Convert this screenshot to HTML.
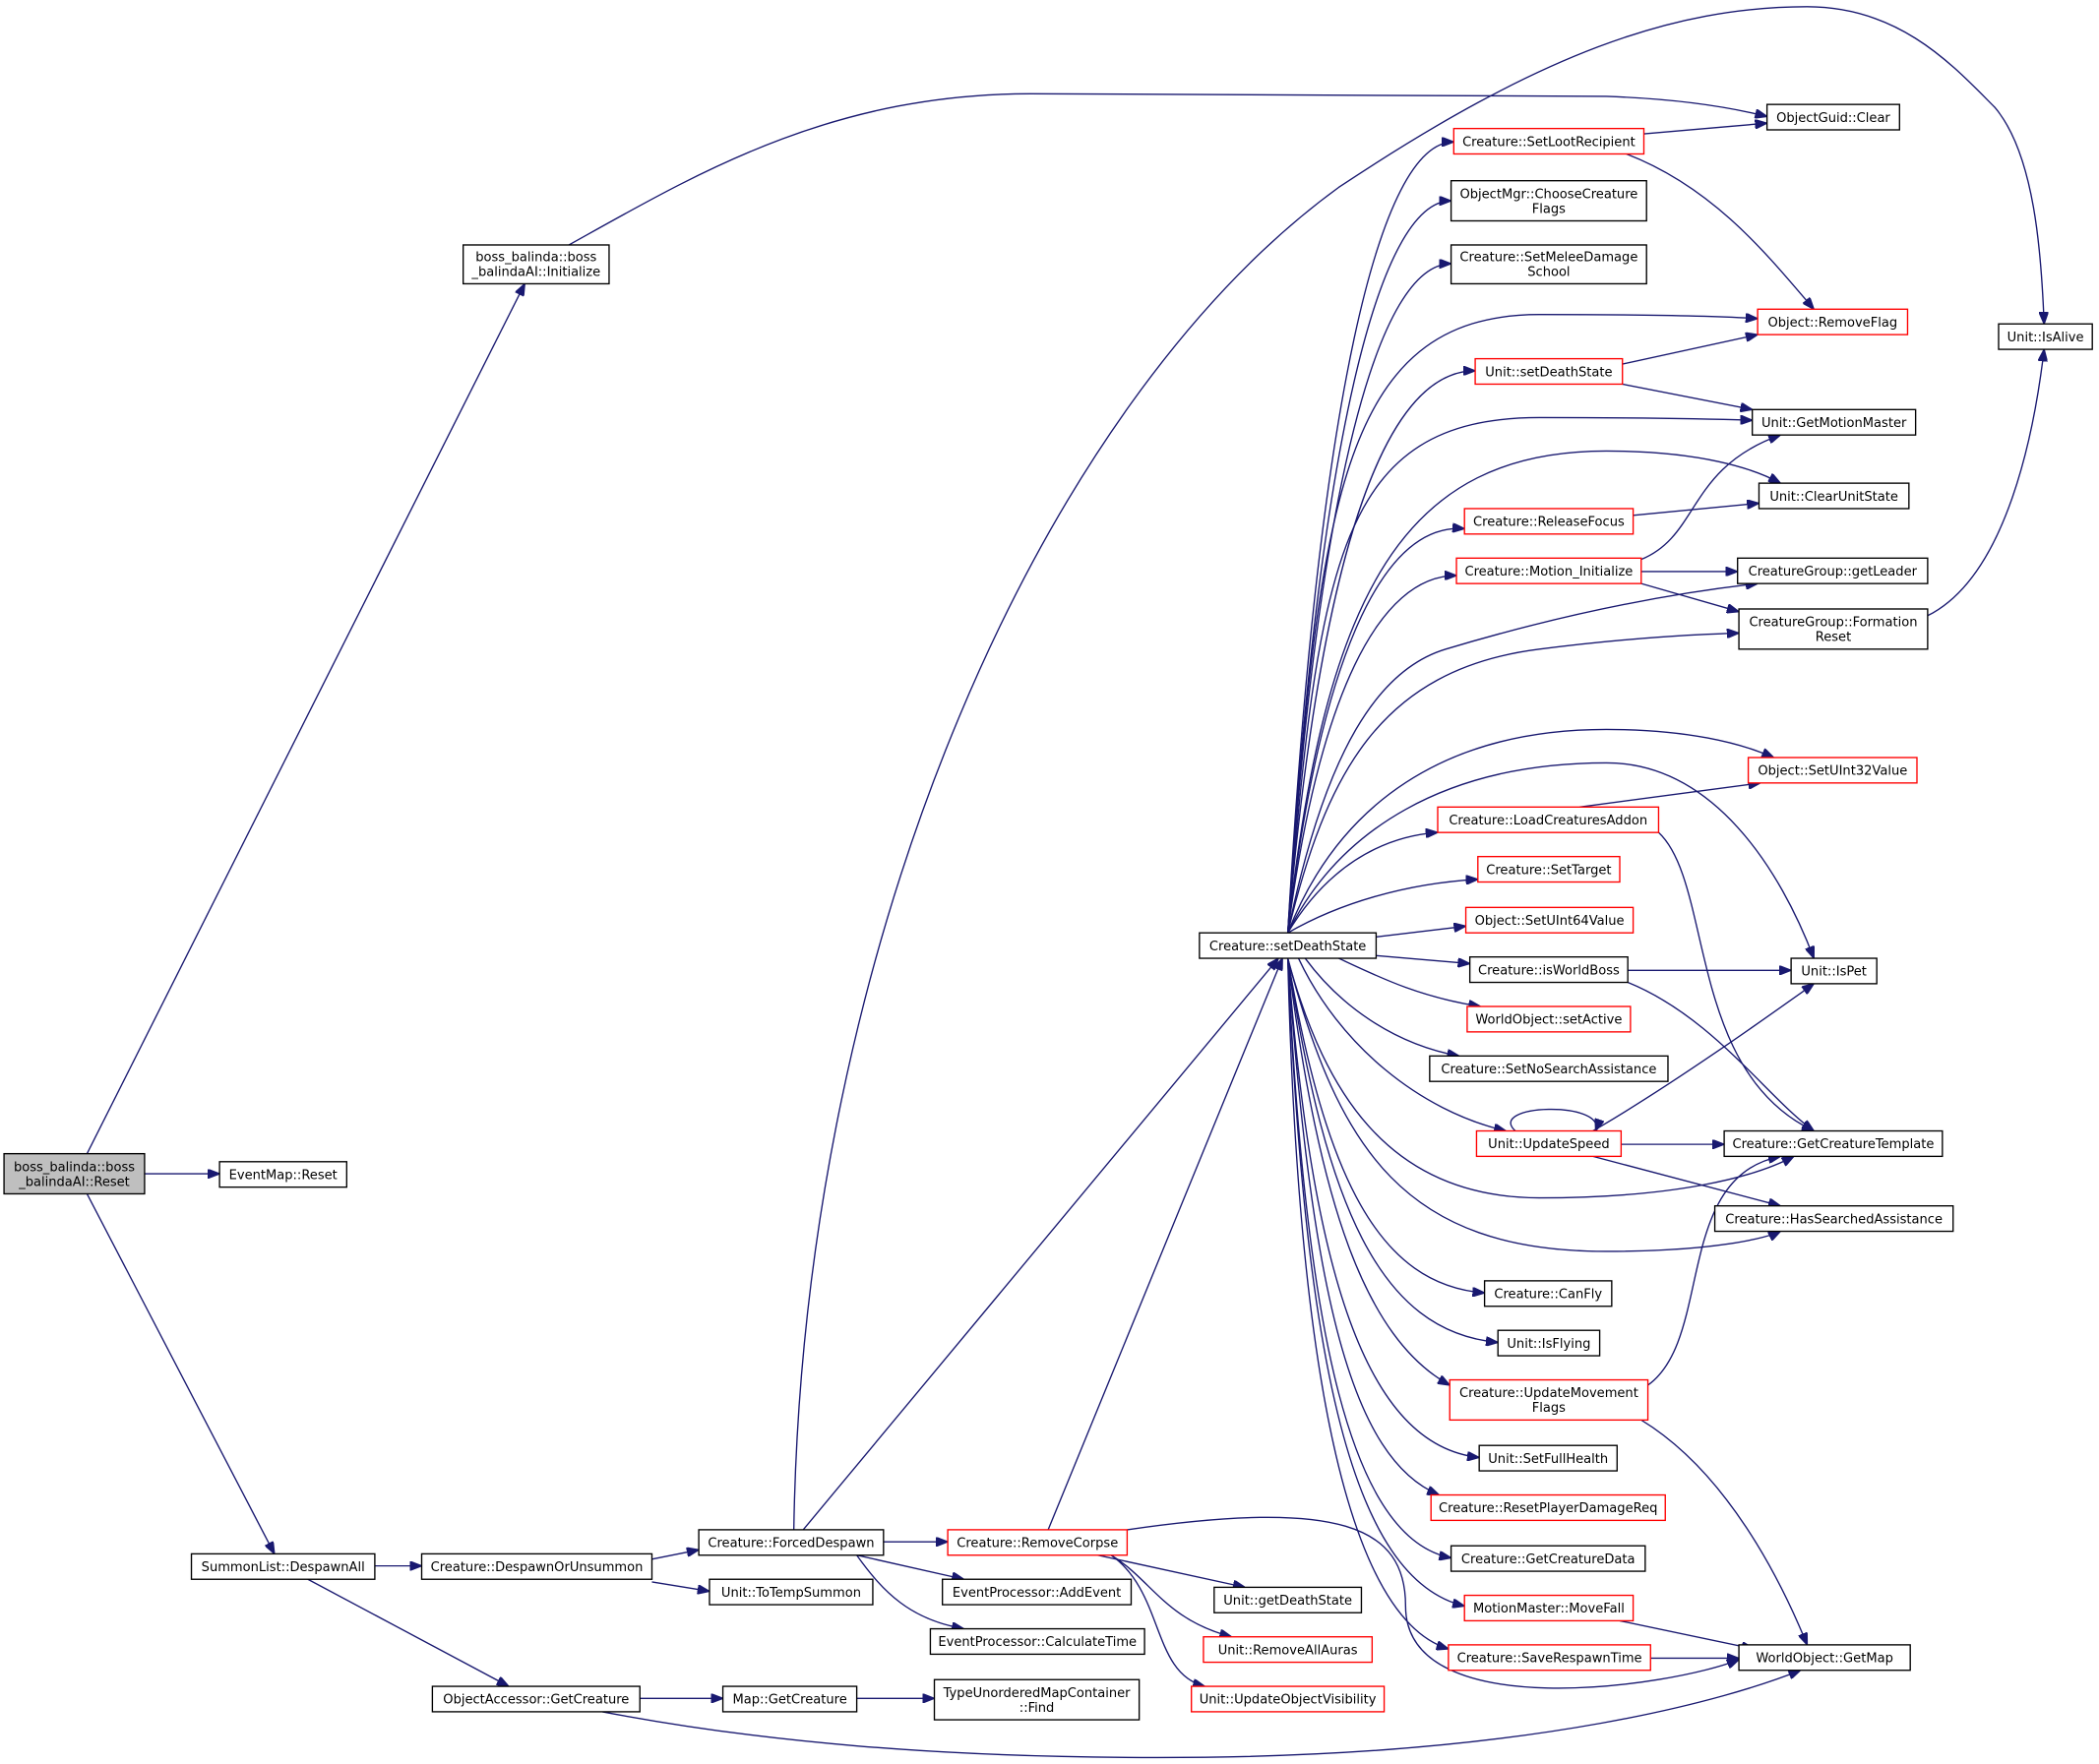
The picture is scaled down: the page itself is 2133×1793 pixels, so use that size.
<!DOCTYPE html>
<html><head><meta charset="utf-8"><style>
html,body{margin:0;padding:0;background:#fff;}
svg{display:block;}
text{font-family:"DejaVu Sans","Liberation Sans",sans-serif;font-size:9.6px;fill:#000;text-anchor:middle;}
.e{fill:none;stroke:#191970;stroke-width:1;marker-end:url(#a);}
.n{fill:#fff;stroke:#000;stroke-width:1;}
.r{fill:#fff;stroke:#ff0000;stroke-width:1;}
</style></head><body>
<svg width="2133" height="1793" viewBox="0 0 1568 1318" xmlns="http://www.w3.org/2000/svg">
<defs><marker id="a" markerWidth="9" markerHeight="7" refX="9" refY="3.5" orient="auto" markerUnits="userSpaceOnUse"><path d="M0,0 L9,3.5 L0,7 Z" fill="#191970" stroke="#191970"/></marker></defs>
<rect width="1568" height="1318" fill="#fff"/>
<g>
<path class="e" d="M65,862 L392,212"/>
<path class="e" d="M108,877 L164,877"/>
<path class="e" d="M65,892 L205,1161"/>
<path class="e" d="M425,183 C520,130 620,70 770,70 L1200,72 C1260,74 1300,82 1320,87"/>
<path class="e" d="M280,1170 L315,1170"/>
<path class="e" d="M230,1180 L380,1260"/>
<path class="e" d="M487,1165 L522,1158"/>
<path class="e" d="M487,1182 L530,1189"/>
<path class="e" d="M478,1269 L540,1269"/>
<path class="e" d="M450,1279 C560,1300 700,1315 900,1313 C1150,1310 1290,1270 1345,1248"/>
<path class="e" d="M640,1269 L698,1269"/>
<path class="e" d="M593,1143 C600,700 780,300 1000,140 C1150,40 1250,5 1350,5 C1420,5 1460,50 1490,80 C1520,115 1525,190 1527,242"/>
<path class="e" d="M600,1143 L955,716"/>
<path class="e" d="M660,1152 L708,1152"/>
<path class="e" d="M640,1162 L720,1180"/>
<path class="e" d="M640,1162 C660,1190 680,1210 720,1217"/>
<path class="e" d="M783,1143 L958,716"/>
<path class="e" d="M820,1162 L930,1186"/>
<path class="e" d="M830,1162 C860,1180 870,1210 920,1223"/>
<path class="e" d="M830,1162 C870,1190 860,1250 900,1260"/>
<path class="e" d="M842,1143 C1000,1120 1050,1140 1050,1200 C1050,1290 1250,1260 1299,1240"/>
<!-- from setDeathState -->
<path class="e" d="M962,697 C985,300 1030,106 1086,106"/>
<path class="e" d="M962,697 C985,330 1030,150 1084,150"/>
<path class="e" d="M962,697 C985,360 1030,197 1084,197"/>
<path class="e" d="M962,697 C985,380 1000,235 1150,235 C1230,235 1280,236 1313,238"/>
<path class="e" d="M962,697 C985,430 1030,277 1102,277"/>
<path class="e" d="M962,697 C985,420 1000,312 1150,312 C1230,312 1280,313 1309,314"/>
<path class="e" d="M962,697 C990,440 1050,337 1200,337 C1270,337 1310,350 1330,361"/>
<path class="e" d="M962,697 C985,500 1030,390 1094,395"/>
<path class="e" d="M962,697 C985,520 1030,430 1088,430"/>
<path class="e" d="M962,697 C990,560 1030,500 1080,485 C1180,455 1260,442 1313,436"/>
<path class="e" d="M962,697 C990,580 1030,500 1150,485 C1220,476 1270,474 1299,473"/>
<path class="e" d="M962,697 C1000,600 1080,545 1200,545 C1260,545 1300,555 1325,566"/>
<path class="e" d="M962,697 C1000,620 1080,570 1200,570 C1280,570 1330,650 1355,716"/>
<path class="e" d="M962,697 C990,650 1030,625 1074,622"/>
<path class="e" d="M962,697 C1000,675 1050,660 1104,657"/>
<path class="e" d="M1028,700 L1095,692"/>
<path class="e" d="M1028,714 L1098,720"/>
<path class="e" d="M1000,716 C1030,730 1060,745 1106,752"/>
<path class="e" d="M975,716 C1000,750 1040,780 1090,789"/>
<path class="e" d="M970,716 C1000,780 1060,830 1125,845"/>
<path class="e" d="M962,716 C990,820 1040,895 1150,895 C1250,895 1310,880 1340,864"/>
<path class="e" d="M962,716 C1000,860 1050,935 1200,935 C1280,935 1320,925 1330,920"/>
<path class="e" d="M962,716 C990,880 1030,960 1109,966"/>
<path class="e" d="M962,716 C990,900 1030,995 1119,1003"/>
<path class="e" d="M962,716 C985,900 1020,1000 1083,1035"/>
<path class="e" d="M962,716 C980,950 1020,1080 1105,1089"/>
<path class="e" d="M962,716 C980,970 1010,1090 1075,1117"/>
<path class="e" d="M962,716 C975,1000 1010,1150 1084,1164"/>
<path class="e" d="M962,716 C975,1020 1010,1180 1094,1200"/>
<path class="e" d="M962,716 C970,1040 1010,1210 1082,1232"/>
<!-- others -->
<path class="e" d="M1228,100 L1320,92"/>
<path class="e" d="M1215,115 C1280,140 1320,190 1355,231"/>
<path class="e" d="M1212,272 L1313,250"/>
<path class="e" d="M1212,287 L1309,306"/>
<path class="e" d="M1220,385 L1314,376"/>
<path class="e" d="M1226,418 C1270,400 1260,350 1330,325"/>
<path class="e" d="M1226,427 L1298,427"/>
<path class="e" d="M1226,436 L1299,457"/>
<path class="e" d="M1440,460 C1500,430 1520,320 1527,261"/>
<path class="e" d="M1180,603 L1315,585"/>
<path class="e" d="M1239,622 C1280,660 1260,800 1355,845"/>
<path class="e" d="M1216,725 L1338,725"/>
<path class="e" d="M1216,734 C1280,760 1320,820 1355,845"/>
<path class="e" d="M1190,845 C1250,810 1320,760 1355,735"/>
<path class="e" d="M1132,845 C1110,825 1200,822 1192,845"/>
<path class="e" d="M1211,855 L1288,855"/>
<path class="e" d="M1190,864 L1330,901"/>
<path class="e" d="M1231,1035 C1280,1000 1250,880 1330,864"/>
<path class="e" d="M1226,1061 C1290,1100 1330,1180 1350,1229"/>
<path class="e" d="M1210,1211 L1310,1232"/>
<path class="e" d="M1233,1239 L1299,1239"/>
</g>
<g>
<rect x="3" y="862" width="105" height="30" fill="#bfbfbf" stroke="#000"/><text x="55.5" y="875">boss_balinda::boss</text><text x="55.5" y="886">_balindaAI::Reset</text>
<rect class="n" x="346" y="183" width="109" height="29"/><text x="400.5" y="195">boss_balinda::boss</text><text x="400.5" y="206">_balindaAI::Initialize</text>
<rect class="n" x="164" y="868" width="95" height="19"/><text x="211.5" y="881">EventMap::Reset</text>
<rect class="n" x="143" y="1161" width="137" height="19"/><text x="211.5" y="1174">SummonList::DespawnAll</text>
<rect class="n" x="315" y="1161" width="172" height="19"/><text x="401" y="1174">Creature::DespawnOrUnsummon</text>
<rect class="n" x="323" y="1260" width="155" height="19"/><text x="400.5" y="1273">ObjectAccessor::GetCreature</text>
<rect class="n" x="522" y="1143" width="138" height="19"/><text x="591" y="1156">Creature::ForcedDespawn</text>
<rect class="n" x="530" y="1180" width="122" height="19"/><text x="591" y="1193">Unit::ToTempSummon</text>
<rect class="n" x="540" y="1260" width="100" height="19"/><text x="590" y="1273">Map::GetCreature</text>
<rect class="n" x="698" y="1255" width="153" height="30"/><text x="774.5" y="1268">TypeUnorderedMapContainer</text><text x="774.5" y="1279">::Find</text>
<rect class="r" x="708" y="1143" width="134" height="19"/><text x="775" y="1156">Creature::RemoveCorpse</text>
<rect class="n" x="704" y="1180" width="141" height="19"/><text x="774.5" y="1193">EventProcessor::AddEvent</text>
<rect class="n" x="695" y="1217" width="160" height="19"/><text x="775" y="1230">EventProcessor::CalculateTime</text>
<rect class="n" x="907" y="1186" width="110" height="19"/><text x="962" y="1199">Unit::getDeathState</text>
<rect class="r" x="899" y="1223" width="126" height="19"/><text x="962" y="1236">Unit::RemoveAllAuras</text>
<rect class="r" x="890" y="1260" width="144" height="19"/><text x="962" y="1273">Unit::UpdateObjectVisibility</text>
<rect class="n" x="896" y="697" width="132" height="19"/><text x="962" y="710">Creature::setDeathState</text>
<rect class="r" x="1086" y="96" width="142" height="19"/><text x="1157" y="109">Creature::SetLootRecipient</text>
<rect class="n" x="1084" y="135" width="146" height="30"/><text x="1157" y="148">ObjectMgr::ChooseCreature</text><text x="1157" y="159">Flags</text>
<rect class="n" x="1084" y="183" width="146" height="29"/><text x="1157" y="195">Creature::SetMeleeDamage</text><text x="1157" y="206">School</text>
<rect class="r" x="1102" y="268" width="110" height="19"/><text x="1157" y="281">Unit::setDeathState</text>
<rect class="r" x="1094" y="380" width="126" height="19"/><text x="1157" y="393">Creature::ReleaseFocus</text>
<rect class="r" x="1088" y="417" width="138" height="19"/><text x="1157" y="430">Creature::Motion_Initialize</text>
<rect class="r" x="1074" y="603" width="165" height="19"/><text x="1156.5" y="616">Creature::LoadCreaturesAddon</text>
<rect class="r" x="1104" y="640" width="106" height="19"/><text x="1157" y="653">Creature::SetTarget</text>
<rect class="r" x="1095" y="678" width="125" height="19"/><text x="1157.5" y="691">Object::SetUInt64Value</text>
<rect class="n" x="1098" y="715" width="118" height="19"/><text x="1157" y="728">Creature::isWorldBoss</text>
<rect class="r" x="1096" y="752" width="122" height="19"/><text x="1157" y="765">WorldObject::setActive</text>
<rect class="n" x="1068" y="789" width="178" height="19"/><text x="1157" y="802">Creature::SetNoSearchAssistance</text>
<rect class="r" x="1103" y="845" width="108" height="19"/><text x="1157" y="858">Unit::UpdateSpeed</text>
<rect class="n" x="1109" y="957" width="95" height="19"/><text x="1156.5" y="970">Creature::CanFly</text>
<rect class="n" x="1119" y="994" width="76" height="19"/><text x="1157" y="1007">Unit::IsFlying</text>
<rect class="r" x="1083" y="1031" width="148" height="30"/><text x="1157" y="1044">Creature::UpdateMovement</text><text x="1157" y="1055">Flags</text>
<rect class="n" x="1105" y="1080" width="103" height="19"/><text x="1156.5" y="1093">Unit::SetFullHealth</text>
<rect class="r" x="1069" y="1117" width="175" height="19"/><text x="1156.5" y="1130">Creature::ResetPlayerDamageReq</text>
<rect class="n" x="1084" y="1155" width="145" height="19"/><text x="1156.5" y="1168">Creature::GetCreatureData</text>
<rect class="r" x="1094" y="1192" width="126" height="19"/><text x="1157" y="1205">MotionMaster::MoveFall</text>
<rect class="r" x="1082" y="1229" width="151" height="19"/><text x="1157.5" y="1242">Creature::SaveRespawnTime</text>
<rect class="n" x="1320" y="78" width="99" height="19"/><text x="1369.5" y="91">ObjectGuid::Clear</text>
<rect class="r" x="1313" y="231" width="112" height="19"/><text x="1369" y="244">Object::RemoveFlag</text>
<rect class="n" x="1309" y="306" width="122" height="19"/><text x="1370" y="319">Unit::GetMotionMaster</text>
<rect class="n" x="1314" y="361" width="112" height="19"/><text x="1370" y="374">Unit::ClearUnitState</text>
<rect class="n" x="1298" y="417" width="142" height="19"/><text x="1369" y="430">CreatureGroup::getLeader</text>
<rect class="n" x="1299" y="455" width="141" height="30"/><text x="1369.5" y="468">CreatureGroup::Formation</text><text x="1369.5" y="479">Reset</text>
<rect class="r" x="1306" y="566" width="126" height="19"/><text x="1369" y="579">Object::SetUInt32Value</text>
<rect class="n" x="1338" y="716" width="64" height="19"/><text x="1370" y="729">Unit::IsPet</text>
<rect class="n" x="1288" y="845" width="163" height="19"/><text x="1369.5" y="858">Creature::GetCreatureTemplate</text>
<rect class="n" x="1281" y="901" width="178" height="19"/><text x="1370" y="914">Creature::HasSearchedAssistance</text>
<rect class="n" x="1299" y="1229" width="128" height="19"/><text x="1363" y="1242">WorldObject::GetMap</text>
<rect class="n" x="1493" y="242" width="70" height="19"/><text x="1528" y="255">Unit::IsAlive</text>
</g>
</svg>
</body></html>
